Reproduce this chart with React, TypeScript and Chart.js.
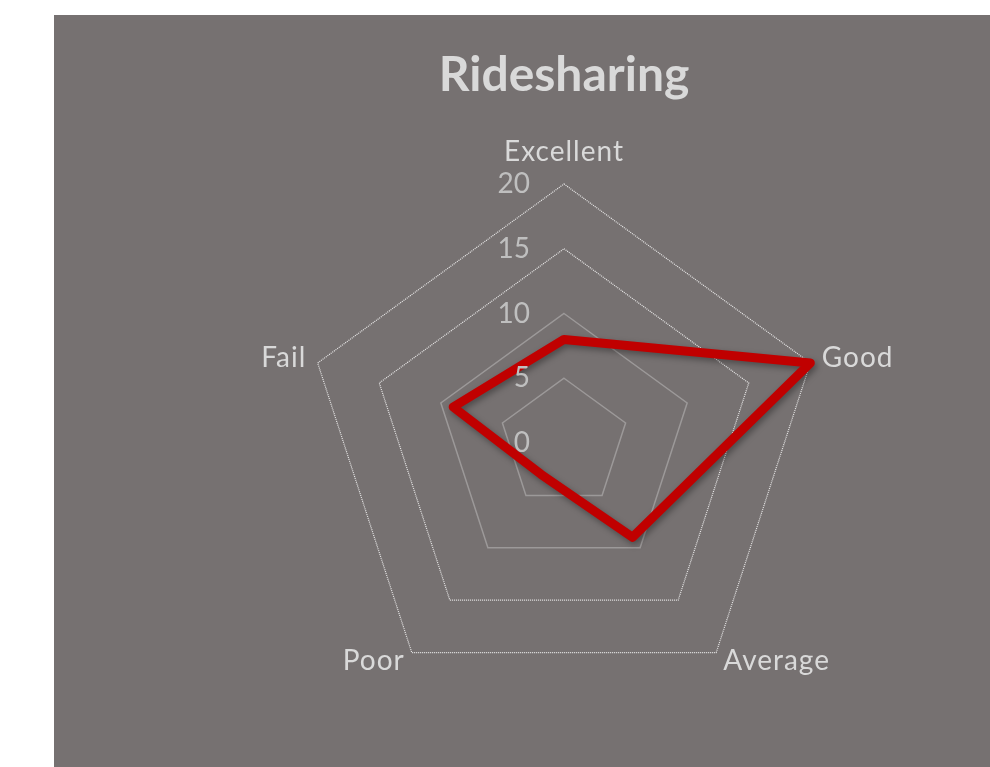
import React, { useEffect, useRef } from 'react';
import { Chart, registerables } from 'chart.js';

Chart.register(...registerables);

const chartTitle = 'Ridesharing';
const categories = ['Excellent', 'Good', 'Average', 'Poor', 'Fail'];
const ridesharingValues = [8, 20, 9, 3, 9];
const scaleMin = 0;
const scaleMax = 20;
const scaleStep = 5;

const FONT = 'Lato, "Open Sans", "DejaVu Sans", sans-serif';

const shadowPlugin = {
  id: 'lineShadow',
  beforeDatasetsDraw(chart: any) {
    const ctx = chart.ctx;
    ctx.save();
    ctx.shadowColor = 'rgba(0,0,0,0.35)';
    ctx.shadowBlur = 6;
    ctx.shadowOffsetX = 2;
    ctx.shadowOffsetY = 3;
  },
  afterDatasetsDraw(chart: any) {
    chart.ctx.restore();
  },
};

const labelPlugin = {
  id: 'radarLabels',
  afterDraw(chart: any) {
    const scale = chart.scales.r;
    const ctx = chart.ctx;
    ctx.save();
    ctx.font = `28px ${FONT}`;
    try {
      (ctx as any).letterSpacing = '1px';
    } catch (e) {
      /* ignore */
    }
    ctx.textBaseline = 'middle';
    // category labels around the web
    ctx.fillStyle = '#d9d9d9';
    (chart.data.labels as string[]).forEach((lab, i) => {
      const p = scale.getPointPosition(i, scale.drawingArea + 12);
      const dx = p.x - scale.xCenter;
      let align: CanvasTextAlign = 'center';
      if (dx > 1) align = 'left';
      else if (dx < -1) align = 'right';
      let y = p.y;
      if (align === 'center') y += p.y < scale.yCenter ? -20 : 20;
      else y -= 1;
      ctx.textAlign = align;
      ctx.fillText(String(lab), p.x, y);
    });
    // value tick labels
    (ctx as any).letterSpacing = '0px';
    ctx.fillStyle = '#bfbfbf';
    ctx.textAlign = 'right';
    scale.ticks.forEach((t: any) => {
      const d = scale.getDistanceFromCenterForValue(t.value);
      ctx.fillText(String(t.value), scale.xCenter - 34, scale.yCenter - d);
    });
    ctx.restore();
  },
};

function RadarChart() {
  const ref = useRef<HTMLCanvasElement | null>(null);
  useEffect(() => {
    if (!ref.current) return;
    const chart = new Chart(ref.current, {
      type: 'radar',
      data: {
        labels: categories,
        datasets: [
          {
            label: chartTitle,
            data: ridesharingValues,
            borderColor: '#c00000',
            backgroundColor: 'rgba(0,0,0,0)',
            borderWidth: 9,
            fill: false,
            pointRadius: 0,
            pointHoverRadius: 0,
            borderJoinStyle: 'round',
            borderCapStyle: 'round',
            tension: 0,
          } as any,
        ],
      },
      options: {
        responsive: false,
        animation: false,
        events: [],
        layout: { padding: { left: 251, right: 167, top: 0, bottom: 65 } },
        plugins: {
          legend: { display: false },
          tooltip: { enabled: false },
          title: {
            display: true,
            text: chartTitle,
            color: '#d9d9d9',
            font: { family: FONT, size: 48, weight: 'bold', lineHeight: '56px' as any },
            padding: { top: 33, bottom: 80 },
          },
        },
        scales: {
          r: {
            min: scaleMin,
            max: scaleMax,
            ticks: { display: false, stepSize: scaleStep },
            pointLabels: { display: false },
            angleLines: { display: false },
            grid: {
              color: (c: any) =>
                c.tick && c.tick.value >= 15 ? 'rgba(240,240,240,0.95)' : 'rgba(217,217,217,0.38)',
              lineWidth: (c: any) => (c.tick && c.tick.value >= 15 ? 1.2 : 1.5),
            },
            border: {
              dash: (c: any) => (c.tick && c.tick.value >= 15 ? [1, 1] : []),
            } as any,
          } as any,
        },
      },
      plugins: [shadowPlugin, labelPlugin],
    });
    return () => chart.destroy();
  }, []);
  return <canvas ref={ref} width={936} height={752} style={{ display: 'block' }} />;
}

export default function App() {
  return (
    <div
      style={{
        position: 'absolute',
        left: 54,
        top: 15,
        width: 936,
        height: 752,
        background: '#767171',
        overflow: 'hidden',
      }}
    >
      <RadarChart />
    </div>
  );
}
